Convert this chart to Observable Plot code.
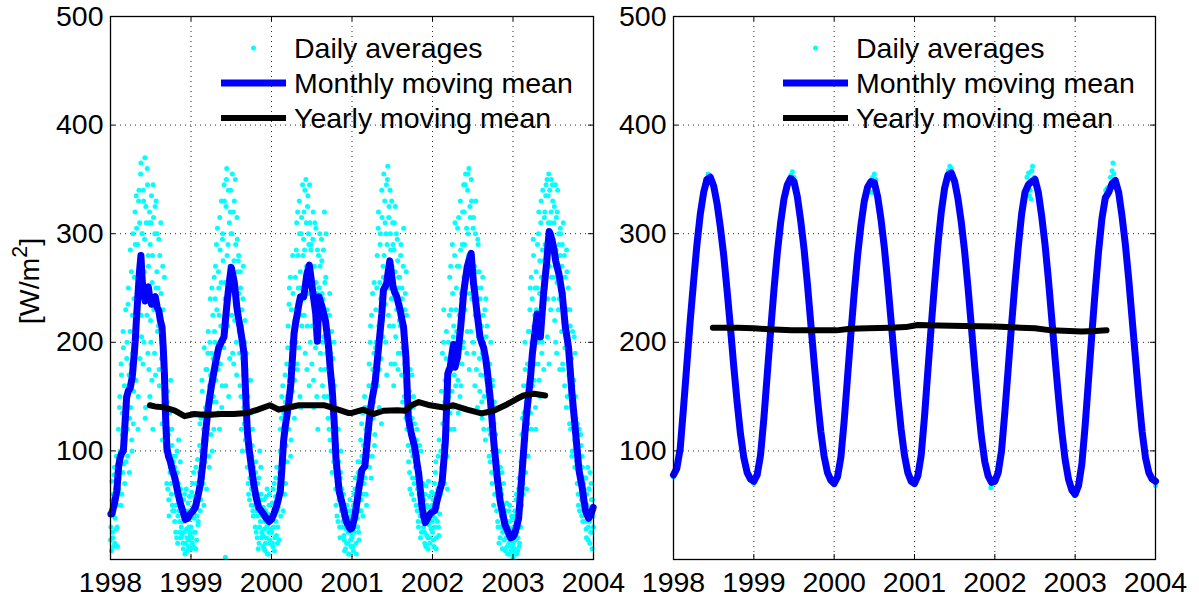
<!DOCTYPE html>
<html><head><meta charset="utf-8">
<script src="https://cdn.jsdelivr.net/npm/d3@7"></script>
<script src="https://cdn.jsdelivr.net/npm/@observablehq/plot@0.6"></script>
<style>
body{margin:0;background:#fff;}
#wrap{position:relative;width:1199px;height:598px;overflow:hidden;background:#fff;}
#wrap svg{position:absolute;top:0;}
</style></head><body><div id="wrap"></div>
<script>
// ---------- tick labels ----------
const xTicks = [1998, 1999, 2000, 2001, 2002, 2003, 2004];
const yTicks = [100, 200, 300, 400, 500];
const legendLabels = ["Daily averages", "Monthly moving mean", "Yearly moving mean"];
const yLabel = "[W/m", ySup = "2", yLabelEnd = "]";

// ---------- left panel: daily averages (two interleaved readings every 3 days) ----------
const years = [1998, 1999, 2000, 2001, 2002, 2003];
const dailyLeft1998 = [18,45,72,25,60,12,85,38,55,95,30,68, 120,75,150,95,180,60,135,210,88,160,110,230, 145,200,95,250,170,130,285,180,110,225,300,155, 260,320,190,335,230,290,150,340,310,250,365,205, 300,180,330,265,370,140,310,225,345,280,175,320, 290,200,335,255,120,315,240,300,170,330,265,210, 250,295,160,230,310,185,125,270,200,145,175,100, 130,70,155,95,55,120,80,165,60,105,45,90, 75,35,95,50,20,80,40,110,55,25,65,30, 22,48,10,35,60,15,42,28,8,52,18,38,25,45];
const dailyLeft1999 = [30,62,15,48,80,25,55,10,70,40,92,35, 60,105,45,130,85,155,70,120,195,90,140,110, 175,120,210,95,160,240,135,190,100,225,150,260, 200,270,145,230,305,175,250,120,285,215,330,160, 300,210,345,255,2,325,360,235,290,150,310,270, 340,255,300,190,320,275,220,350,240,170,295,265, 280,210,160,250,120,230,185,270,140,200,110,175, 130,85,150,60,110,75,165,50,95,120,40,80, 65,30,90,45,20,70,55,15,100,35,60,25, 40,12,55,28,8,45,20,65,32,5,50,18,38,25];
const dailyLeft2000 = [25,52,12,40,70,20,58,35,85,15,48,65, 55,100,40,130,75,160,90,120,60,145,105,180, 150,215,120,250,175,95,230,190,280,140,205,165, 260,200,310,175,280,235,330,150,250,300,215,345, 240,320,285,190,350,270,215,335,300,160,310,265, 290,180,250,320,140,270,225,305,200,245,120,280, 250,300,190,230,275,160,240,205,320,175,260,210, 230,150,195,120,245,170,100,210,140,185,90,160, 110,65,95,40,80,120,55,30,75,100,45,60, 35,60,18,42,10,28,50,15,38,5,25,45,12,30];
const dailyLeft2001 = [20,45,8,60,30,75,15,50,38,90,25,55, 70,110,45,95,135,60,85,150,75,120,50,100, 140,95,180,120,215,75,160,245,130,190,105,170, 230,165,280,195,320,140,255,300,185,340,220,270, 355,260,310,200,345,290,362,225,325,250,300,180, 330,240,290,160,310,265,205,300,245,275,190,250, 260,215,290,170,240,195,305,150,230,185,265,120, 160,105,140,80,175,115,60,130,95,150,70,110, 90,50,120,65,35,85,105,40,70,25,60,45, 30,55,15,40,68,22,48,10,35,58,20,42,28,50];
const dailyLeft2002 = [25,55,12,70,38,90,20,48,65,30,110,42, 60,140,85,190,105,230,70,165,120,210,95,175, 200,150,260,120,230,185,290,140,215,170,310,160, 250,180,305,135,270,210,330,160,240,290,195,345, 320,230,355,270,190,340,300,360,245,315,210,330, 280,200,315,245,160,300,230,265,140,290,220,185, 240,170,215,130,260,190,150,230,110,205,165,180, 175,120,150,90,200,135,70,160,105,125,60,140, 85,45,70,30,100,55,20,65,40,80,25,50, 18,40,8,30,52,12,25,45,5,35,15,28,20,38];
const dailyLeft2003 = [2,30,5,45,18,60,25,8,40,75,15,55, 90,50,130,70,160,105,200,80,145,120,180,95, 210,150,250,175,120,240,195,280,165,225,140,265, 215,290,180,320,245,150,310,260,200,340,235,275, 320,250,345,290,205,335,355,270,310,230,350,300, 330,260,310,220,345,285,190,320,270,300,240,280, 300,240,270,180,310,225,160,260,205,285,150,230, 200,150,230,120,175,95,210,140,165,110,190,130, 110,70,95,50,120,80,60,105,40,85,65,75, 60,35,75,20,50,85,30,65,15,45,70,25,55,40];
const dailyLeft1998b = [30,8,55,20,42,78,15,65,28,50,12,88, 65,140,100,50,170,115,80,195,130,70,150,90, 185,120,235,160,80,210,140,265,100,190,125,240, 210,290,165,305,245,120,330,270,185,355,225,300, 255,340,200,295,130,325,240,360,190,270,310,150, 220,310,165,280,345,230,190,325,250,140,300,235, 215,175,280,140,245,200,110,230,160,260,120,150, 100,145,65,115,40,135,85,70,120,50,95,75, 45,85,25,60,100,15,70,45,35,90,20,55, 35,15,55,25,5,40,65,20,45,12,30,58,22,10];
const dailyLeft1999b = [45,20,70,12,38,58,25,85,18,50,32,65, 80,125,55,100,165,75,110,50,135,95,175,65, 130,190,150,85,200,170,115,250,145,185,120,210, 240,165,290,190,135,265,225,315,180,255,140,295, 275,195,330,240,160,350,280,215,340,250,185,320, 300,225,355,265,180,330,250,290,200,315,230,275, 245,190,265,150,215,100,240,170,125,220,155,190, 100,140,70,120,55,90,135,65,105,45,85,60, 50,80,25,60,40,10,75,30,55,85,20,45, 22,48,10,35,15,58,30,5,42,25,60,15,35,28];
const dailyLeft2000b = [40,15,65,30,8,50,75,22,45,30,60,18, 80,120,65,150,95,45,135,110,170,70,125,90, 195,140,235,165,260,110,200,155,245,180,130,220, 230,285,180,320,250,195,300,265,140,315,225,280, 295,225,340,260,310,175,325,245,290,345,200,285, 260,215,295,165,240,310,195,255,150,285,220,250, 220,270,175,295,245,200,285,150,255,215,300,190, 210,130,175,225,110,190,150,80,165,125,200,105, 85,50,105,70,35,90,60,20,80,45,65,30, 40,22,8,50,30,15,45,25,5,35,55,18,40,22];
const dailyLeft2001b = [35,12,50,25,65,40,5,58,30,80,18,45, 90,55,125,80,40,105,70,140,85,60,115,95, 110,160,85,200,135,225,95,175,145,255,115,195, 200,250,160,305,215,175,290,240,125,315,205,260, 280,330,235,300,170,350,270,315,215,340,285,240, 270,310,215,285,180,325,250,230,295,175,260,220, 235,280,190,250,145,270,210,180,245,130,225,165, 135,90,155,65,120,100,170,75,140,55,125,85, 75,110,45,95,30,60,80,20,100,55,35,70, 45,25,60,12,38,50,20,72,32,15,48,28,62,35];
const dailyLeft2002b = [40,18,60,30,80,10,50,35,95,22,58,70, 100,155,75,125,200,90,145,110,185,130,65,160, 175,225,135,270,190,155,245,205,120,280,185,230, 210,270,165,315,225,150,285,245,180,320,200,260, 290,345,250,305,210,355,280,175,325,265,350,240, 255,305,190,270,225,330,175,250,295,205,265,155, 205,250,145,190,225,120,195,170,240,135,215,155, 150,95,180,115,140,80,165,125,50,145,100,115, 60,90,35,75,15,50,85,30,60,10,45,70, 28,10,45,20,35,5,30,15,50,22,8,40,12,25];
const dailyLeft2003b = [15,40,10,25,55,5,35,20,65,12,48,30, 70,115,150,60,135,95,175,110,65,160,125,210, 180,230,135,260,200,160,295,215,180,250,120,230, 250,200,300,165,275,225,330,190,285,250,175,315, 290,335,270,350,240,310,180,340,285,320,260,345, 295,240,325,270,200,315,255,340,230,290,175,305, 260,210,290,175,245,280,195,230,140,265,200,250, 170,125,215,140,185,100,160,130,205,85,150,120, 90,125,60,100,45,80,115,55,95,35,70,50, 50,75,28,60,40,18,65,35,80,25,55,10,45,30];
const dailyLeftByYear = [dailyLeft1998, dailyLeft1999, dailyLeft2000, dailyLeft2001, dailyLeft2002, dailyLeft2003];
const dailyLeftByYearB = [dailyLeft1998b, dailyLeft1999b, dailyLeft2000b, dailyLeft2001b, dailyLeft2002b, dailyLeft2003b];
const dayStep = 3;

// ---------- left panel: monthly moving mean [year, value] ----------
const monthlyLeft = [[1998.005,42],[1998.017,42],[1998.05,52],[1998.079,63],[1998.10,85],[1998.12,94],[1998.14,98],[1998.16,100],[1998.18,125],[1998.20,149],[1998.22,155],[1998.245,158],[1998.27,168],[1998.29,185],[1998.307,201],[1998.325,225],[1998.34,242],[1998.36,265],[1998.378,280],[1998.39,262],[1998.40,251],[1998.415,245],[1998.43,238],[1998.45,245],[1998.47,251],[1998.49,240],[1998.51,235],[1998.53,240],[1998.556,242],[1998.58,232],[1998.60,229],[1998.62,220],[1998.64,214],[1998.655,195],[1998.67,171],[1998.685,130],[1998.70,103],[1998.72,95],[1998.74,91],[1998.77,82],[1998.80,75],[1998.835,62],[1998.87,51],[1998.90,44],[1998.93,37],[1998.96,38],[1998.99,42],
[1999.02,44],[1999.054,48],[1999.085,58],[1999.116,69],[1999.15,90],[1999.178,115],[1999.20,130],[1999.22,143],[1999.25,158],[1999.28,171],[1999.31,183],[1999.344,195],[1999.375,200],[1999.41,205],[1999.43,222],[1999.45,238],[1999.475,255],[1999.50,269],[1999.52,262],[1999.54,254],[1999.57,232],[1999.59,222],[1999.61,214],[1999.635,202],[1999.66,189],[1999.68,150],[1999.70,118],[1999.72,103],[1999.74,91],[1999.76,80],[1999.78,69],[1999.81,57],[1999.84,48],[1999.87,45],[1999.90,42],[1999.935,38],[1999.97,35],
[2000.00,37],[2000.03,42],[2000.07,51],[2000.11,63],[2000.13,85],[2000.15,109],[2000.17,122],[2000.195,134],[2000.22,148],[2000.24,162],[2000.26,185],[2000.28,208],[2000.30,218],[2000.32,226],[2000.34,235],[2000.36,242],[2000.38,242],[2000.40,242],[2000.42,252],[2000.44,263],[2000.47,271],[2000.49,260],[2000.51,248],[2000.53,237],[2000.55,226],[2000.56,212],[2000.57,201],[2000.58,225],[2000.59,242],[2000.61,237],[2000.63,232],[2000.65,226],[2000.67,220],[2000.69,208],[2000.71,195],[2000.73,175],[2000.755,155],[2000.78,125],[2000.80,94],[2000.82,78],[2000.84,63],[2000.86,57],[2000.88,51],[2000.905,43],[2000.93,35],[2000.955,31],[2000.98,28],
[2001.00,29],[2001.02,35],[2001.04,42],[2001.06,52],[2001.08,63],[2001.10,72],[2001.12,82],[2001.14,84],[2001.16,86],[2001.18,102],[2001.20,118],[2001.22,132],[2001.245,146],[2001.27,156],[2001.29,165],[2001.31,180],[2001.33,195],[2001.35,210],[2001.37,226],[2001.39,248],[2001.41,251],[2001.43,254],[2001.45,265],[2001.47,275],[2001.49,263],[2001.51,251],[2001.53,246],[2001.556,242],[2001.58,235],[2001.60,229],[2001.62,221],[2001.64,214],[2001.655,200],[2001.67,186],[2001.685,158],[2001.70,131],[2001.72,122],[2001.74,115],[2001.76,109],[2001.78,103],[2001.805,90],[2001.83,78],[2001.85,63],[2001.87,48],[2001.89,40],[2001.91,34],[2001.94,38],[2001.97,42],
[2002.00,44],[2002.03,45],[2002.05,52],[2002.075,60],[2002.10,66],[2002.12,72],[2002.14,90],[2002.16,109],[2002.175,140],[2002.19,171],[2002.205,174],[2002.22,177],[2002.24,188],[2002.26,198],[2002.28,177],[2002.295,182],[2002.31,186],[2002.33,200],[2002.35,214],[2002.37,231],[2002.39,248],[2002.41,258],[2002.43,269],[2002.455,276],[2002.48,282],[2002.495,268],[2002.51,254],[2002.53,242],[2002.55,229],[2002.57,217],[2002.59,205],[2002.61,200],[2002.635,195],[2002.66,185],[2002.68,174],[2002.70,160],[2002.72,146],[2002.74,128],[2002.76,109],[2002.78,94],[2002.80,78],[2002.82,66],[2002.84,54],[2002.87,43],[2002.90,32],[2002.935,26],[2002.97,20],
[2003.00,21],[2003.017,23],[2003.045,30],[2003.07,38],[2003.09,58],[2003.11,78],[2003.13,98],[2003.15,118],[2003.17,135],[2003.195,152],[2003.22,170],[2003.24,189],[2003.27,208],[2003.30,226],[2003.32,215],[2003.34,205],[2003.36,225],[2003.38,245],[2003.40,260],[2003.42,275],[2003.435,290],[2003.45,302],[2003.47,298],[2003.485,294],[2003.51,285],[2003.53,275],[2003.55,269],[2003.57,263],[2003.59,254],[2003.61,245],[2003.63,230],[2003.65,214],[2003.67,205],[2003.69,195],[2003.71,175],[2003.73,155],[2003.755,135],[2003.78,115],[2003.80,98],[2003.82,82],[2003.84,74],[2003.86,66],[2003.88,55],[2003.90,45],[2003.92,41],[2003.94,38],[2003.97,42],[2003.996,48]];

// ---------- left panel: yearly moving mean ----------
const yearlyLeft = [[1998.49,142],[1998.55,141],[1998.67,140],[1998.80,137],[1998.92,132],[1999.04,134],[1999.2,133],[1999.37,134],[1999.53,134],[1999.7,135],[1999.83,138],[1999.98,142],[2000.09,138],[2000.21,140],[2000.34,142],[2000.5,142],[2000.66,142],[2000.83,138],[2000.95,135],[2001.0,135],[2001.14,138],[2001.27,134],[2001.39,137],[2001.56,137.5],[2001.66,137],[2001.74,142],[2001.83,145],[2001.97,142],[2002.14,140],[2002.26,142],[2002.43,138],[2002.61,134.5],[2002.76,137],[2002.93,143],[2003.05,148],[2003.13,151],[2003.26,152.6],[2003.40,151]];

// ---------- right panel: monthly moving mean (24 readings per year) ----------
const monthlyRight1998 = [78,84,102,140,180,220,256,290,318,338,350,352,344,328,306,280,248,214,178,145,116,94,80,74];
const monthlyRight1999 = [72,78,96,130,170,210,248,282,310,332,345,351,348,334,312,286,254,218,182,148,118,95,80,73];
const monthlyRight2000 = [70,76,94,128,168,208,246,280,308,330,343,348,347,334,313,287,255,220,184,150,120,96,80,72];
const monthlyRight2001 = [70,77,96,132,174,215,254,290,320,342,354,356,348,332,310,283,250,214,177,143,113,90,77,71];
const monthlyRight2002 = [72,80,100,136,176,216,254,288,318,338,345,348,350,338,316,290,258,222,185,150,118,92,74,64];
const monthlyRight2003 = [60,68,88,124,166,208,248,284,314,333,338,346,349,338,316,290,258,222,186,150,118,94,80,74];
const monthlyRightEnd = [2004.0, 72];
const monthlyRightByYear = [monthlyRight1998, monthlyRight1999, monthlyRight2000, monthlyRight2001, monthlyRight2002, monthlyRight2003];

// ---------- right panel: visible daily averages ----------
const dailyRight = [[1998.0,76],[1998.005,80],[1998.01,78],[1998.40,350],[1998.43,355],[1998.45,354],[1998.48,349],[1998.56,312],
[1999.0,70],[1999.46,354],[1999.48,357],[1999.50,352],
[2000.0,69],[2000.45,345],[2000.47,338],[2000.48,352],[2000.50,355],[2000.52,350],
[2001.0,69],[2001.42,358],[2001.44,362],[2001.46,360],[2001.48,352],[2001.50,346],
[2001.95,66],[2002.40,352],[2002.42,356],[2002.43,335],[2002.44,340],[2002.45,332],[2002.46,358],[2002.47,362],[2002.49,352],
[2002.99,59],[2003.38,340],[2003.40,342],[2003.44,352],[2003.46,358],[2003.47,365],[2003.48,355],[2003.50,350],
[2003.99,74],[2003.995,72],[2004.0,68]];

// ---------- right panel: yearly moving mean ----------
const yearlyRight = [[1998.49,213.5],[1998.8,213.5],[1999.0,213],[1999.18,212],[1999.47,211],[1999.75,211],[2000.03,211],[2000.2,212.5],[2000.42,213],[2000.7,213.5],[2000.89,214],[2001.04,216],[2001.3,215.5],[2001.61,215],[2002.0,214.5],[2002.32,213.5],[2002.5,213],[2002.70,211],[2003.08,210],[2003.25,210.5],[2003.39,211]];

// ---------- build tables ----------
const dailyLeft = years.flatMap((yr, j) => [
  ...dailyLeftByYear[j].map((v, i) => ({t: yr + dayStep * i / 365, v})),
  ...dailyLeftByYearB[j].map((v, i) => ({t: yr + (dayStep * i + 1.5) / 365, v}))
]);
const toRows = a => a.map(([t, v]) => ({t, v}));
const monthlyRight = years.flatMap((yr, j) => monthlyRightByYear[j].map((v, k) => ({t: yr + k / 24, v}))).concat([{t: monthlyRightEnd[0], v: monthlyRightEnd[1]}]);

const CYAN = "#00ffff", BLUE = "#0000ff";
const FONT = "Liberation Sans, Arial, Helvetica, sans-serif";
const FS = 28.5;
const H = 598, MT = 16, MB = 39;

function panel({daily, monthly, yearly, width, marginLeft, marginRight}) {
  const ph = H - MT - MB, pw = width - marginLeft - marginRight;
  return Plot.plot({
    width, height: H, marginTop: MT, marginBottom: MB, marginLeft, marginRight,
    style: {fontFamily: FONT, fontSize: FS + "px", color: "black", background: "transparent", overflow: "visible"},
    x: {domain: [1998, 2004], label: null},
    y: {domain: [0, 500], label: null},
    marks: [
      Plot.gridX(xTicks.slice(1, -1), {stroke: "black", strokeOpacity: 0.85, strokeDasharray: "1,4", strokeWidth: 1}),
      Plot.gridY(yTicks.slice(0, -1), {stroke: "black", strokeOpacity: 0.85, strokeDasharray: "1,4", strokeWidth: 1}),
      Plot.dot(daily, {x: "t", y: "v", r: 2.5, fill: CYAN}),
      Plot.line(monthly, {x: "t", y: "v", stroke: BLUE, strokeWidth: 7}),
      Plot.line(yearly, {x: "t", y: "v", stroke: "black", strokeWidth: 6}),
      Plot.tickX(xTicks, {x: d => d, stroke: "black", insetTop: ph - 5}),
      Plot.tickX(xTicks, {x: d => d, stroke: "black", insetBottom: ph - 5}),
      Plot.tickY(yTicks, {y: d => d, stroke: "black", insetRight: pw - 5}),
      Plot.tickY(yTicks, {y: d => d, stroke: "black", insetLeft: pw - 5}),
      Plot.frame({stroke: "black", strokeWidth: 1.3}),
      Plot.axisX({ticks: xTicks, tickFormat: d => String(d), tickSize: 0, tickPadding: 12, fontSize: FS, label: null}),
      Plot.axisY({ticks: yTicks, tickFormat: d => String(d), tickSize: 0, tickPadding: 7, fontSize: FS, label: null})
    ]
  });
}

function addLegend(svg, x0) {
  const g = d3.select(svg).append("g").attr("font-family", FONT).attr("font-size", FS).attr("text-anchor", "start");
  const rows = [48, 83, 118];
  g.append("circle").attr("cx", x0 + 32.5).attr("cy", rows[0]).attr("r", 2.5).attr("fill", CYAN);
  g.append("line").attr("x1", x0).attr("x2", x0 + 65).attr("y1", rows[1]).attr("y2", rows[1]).attr("stroke", BLUE).attr("stroke-width", 7);
  g.append("line").attr("x1", x0).attr("x2", x0 + 65).attr("y1", rows[2]).attr("y2", rows[2]).attr("stroke", "black").attr("stroke-width", 6);
  legendLabels.forEach((s, i) => {
    g.append("text").attr("x", x0 + 73).attr("y", rows[i]).attr("dy", "0.36em").attr("text-anchor", "start").attr("fill", "black").text(s);
  });
}

const wrap = document.getElementById("wrap");
const left = panel({daily: dailyLeft, monthly: toRows(monthlyLeft), yearly: toRows(yearlyLeft), width: 599, marginLeft: 110, marginRight: 6});
left.style.left = "0px";
const right = panel({daily: toRows(dailyRight), monthly: monthlyRight, yearly: toRows(yearlyRight), width: 600, marginLeft: 74, marginRight: 44});
right.style.left = "599px";
wrap.appendChild(right);
wrap.appendChild(left);
addLegend(left, 221);
addLegend(right, 184);

// y-axis label with superscript
const yl = d3.select(left).append("text")
  .attr("transform", "translate(39,281) rotate(-90)")
  .attr("text-anchor", "middle").attr("font-family", FONT).attr("font-size", FS).attr("fill", "black");
yl.append("tspan").text(yLabel);
yl.append("tspan").attr("font-size", FS * 0.75).attr("dy", "-0.55em").text(ySup);
yl.append("tspan").attr("dy", "0.41em").text(yLabelEnd);
</script></body></html>
